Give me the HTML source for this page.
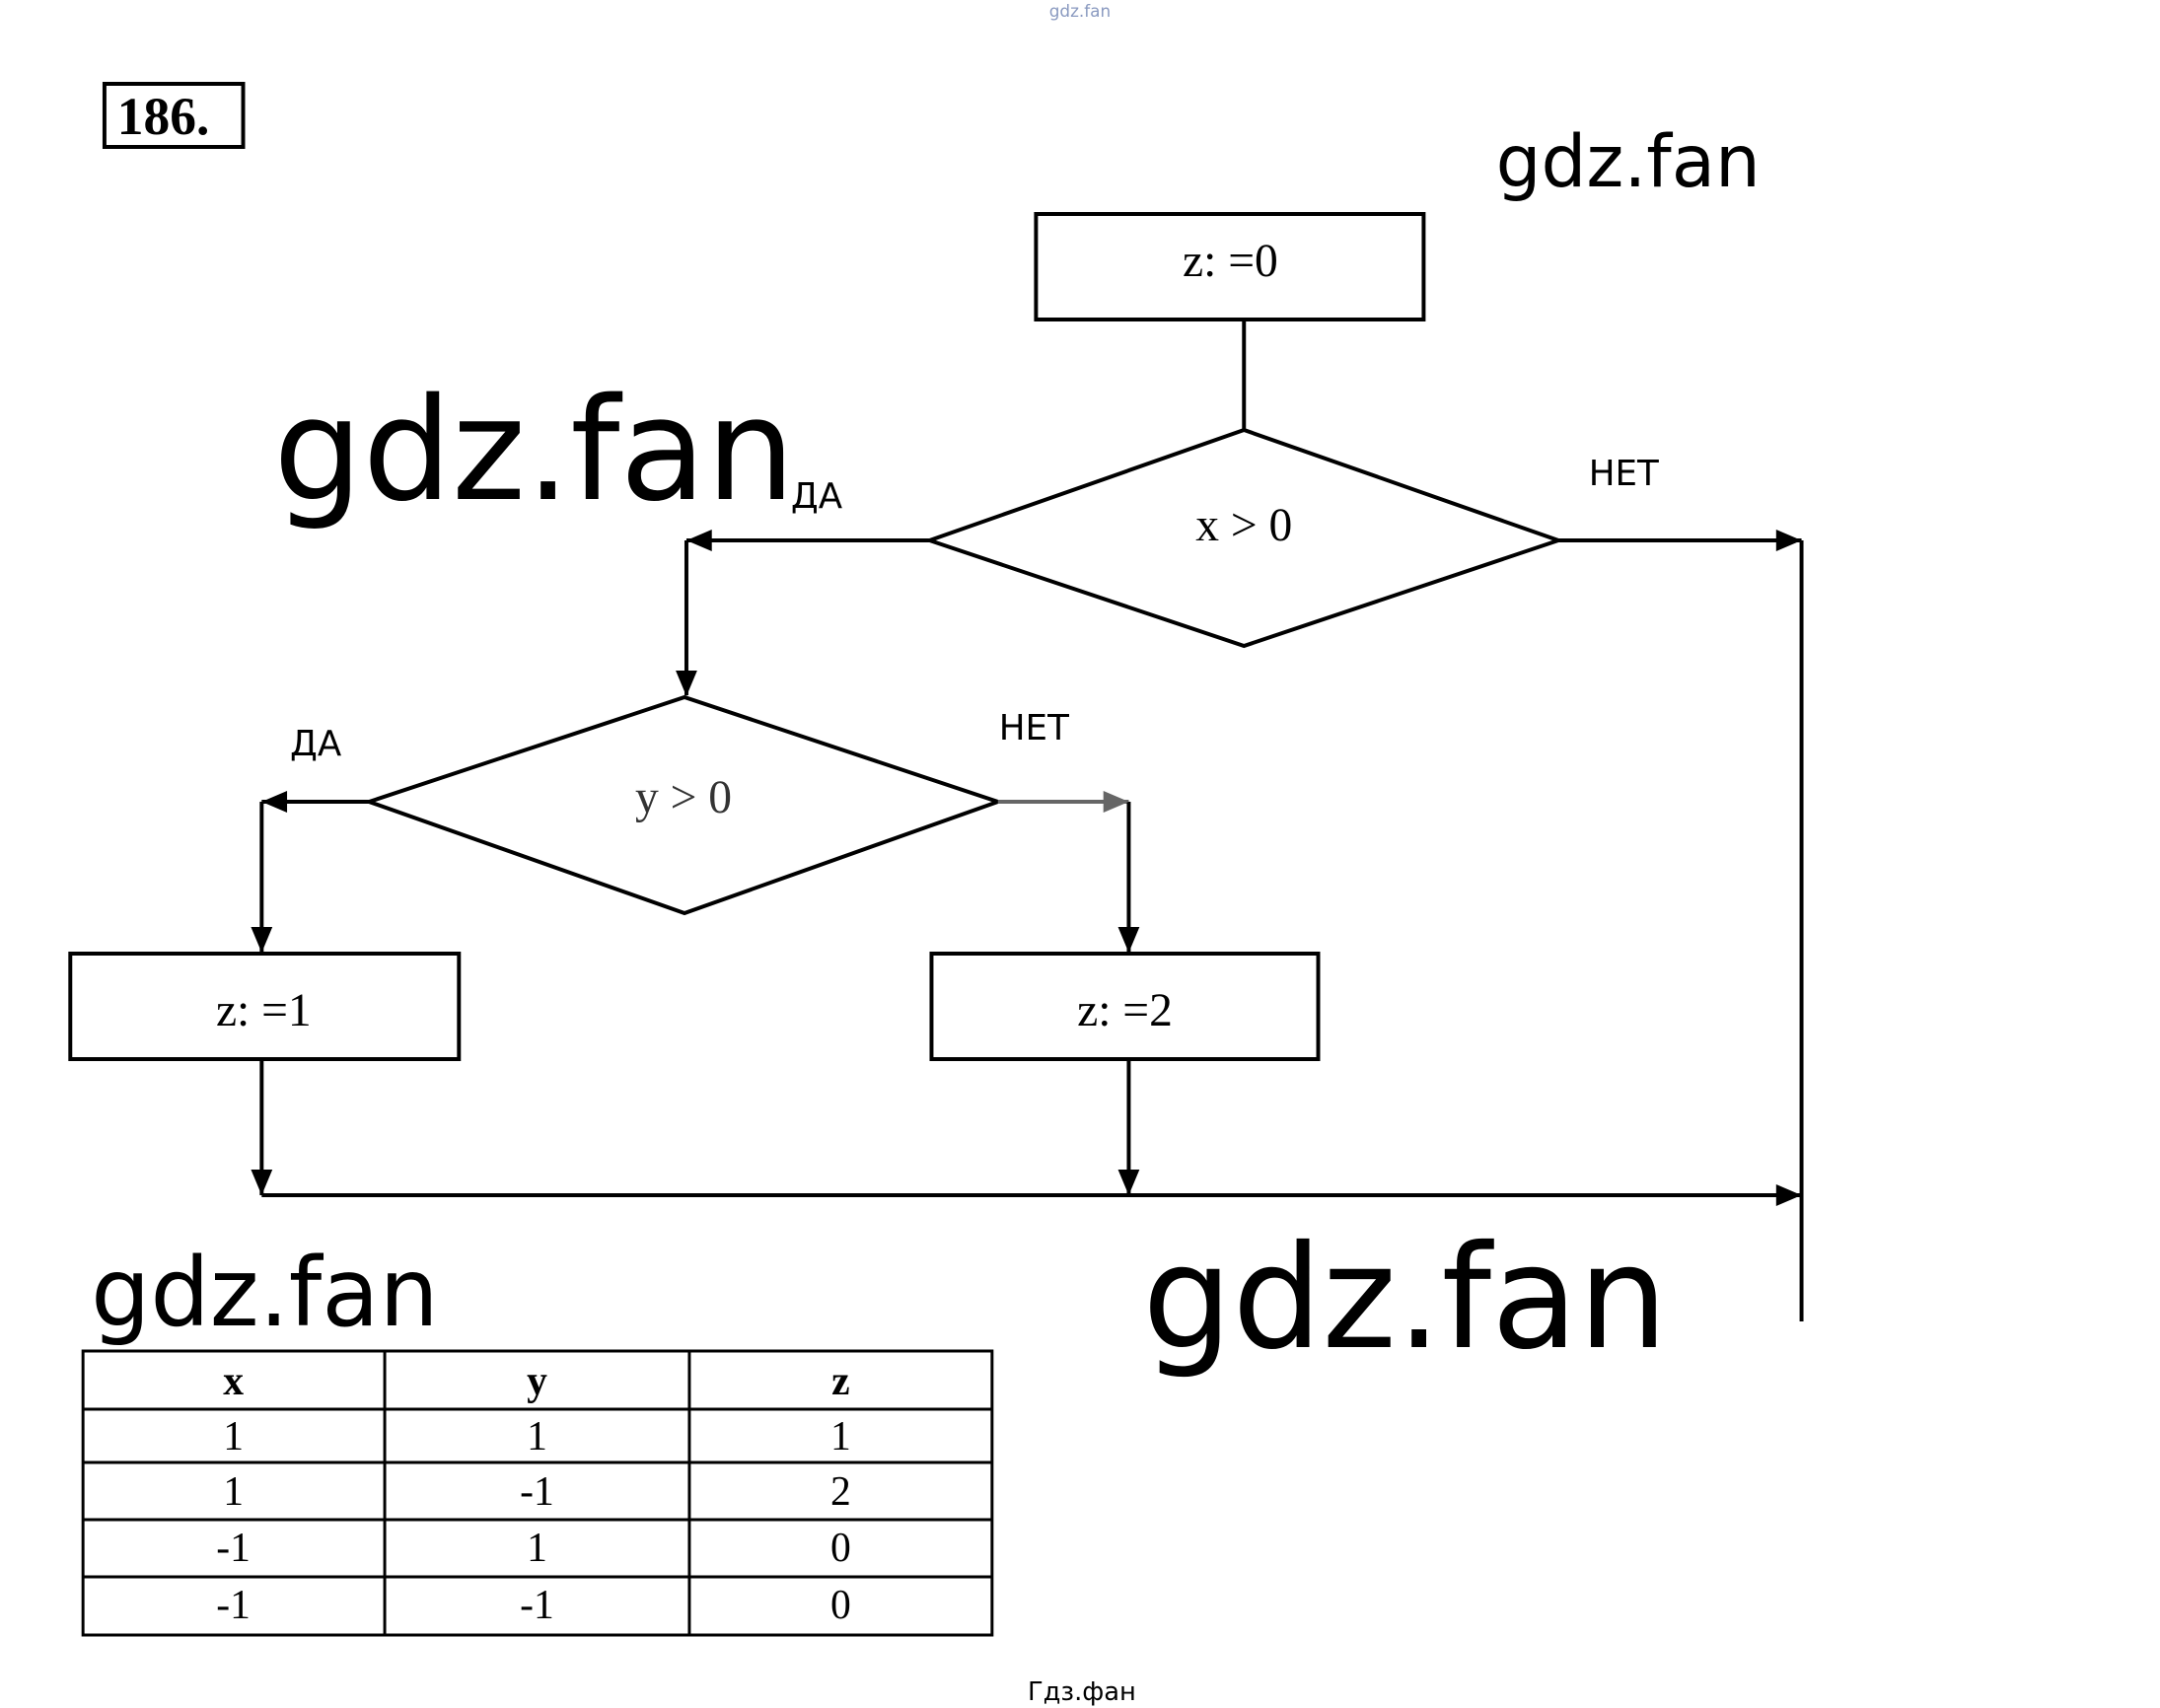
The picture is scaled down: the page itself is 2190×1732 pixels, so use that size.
<!DOCTYPE html>
<html><head><meta charset="utf-8"><style>
html,body{margin:0;padding:0;background:#fff;}
svg{display:block;}
</style></head><body>
<svg width="2190" height="1732" viewBox="0 0 2190 1732" xmlns="http://www.w3.org/2000/svg">
<rect x="0" y="0" width="2190" height="1732" fill="#fff"/>
<g transform="scale(0.99,1)">
<text x="1106" y="17" font-family="DejaVu Sans, sans-serif" font-size="17" fill="#8a9ac0" text-anchor="middle">gdz.fan</text>
<rect x="107" y="85" width="142" height="64" fill="none" stroke="#000" stroke-width="4"/>
<text x="120" y="136" font-family="Liberation Serif, serif" font-weight="bold" font-size="54">186.</text>

<g fill="none" stroke="#000" stroke-width="4">
<rect x="1061" y="217" width="397" height="107"/>
<line x1="1274" y1="324" x2="1274" y2="436"/>
<polygon points="952,548 1274,436 1596,548 1274,655"/>
<line x1="952" y1="548" x2="703" y2="548"/>
<line x1="703" y1="548" x2="703" y2="705"/>
<line x1="1596" y1="548" x2="1845" y2="548"/>
<line x1="1845" y1="548" x2="1845" y2="1340"/>
<polygon points="378,813 701,707 1022,813 701,926"/>
<line x1="378" y1="813" x2="268" y2="813"/>
<line x1="268" y1="813" x2="268" y2="965"/>
<line x1="1022" y1="813" x2="1156" y2="813" stroke="#666"/>
<line x1="1156" y1="813" x2="1156" y2="965"/>
<rect x="72" y="967" width="398" height="107"/>
<rect x="954" y="967" width="396" height="107"/>
<line x1="268" y1="1074" x2="268" y2="1212"/>
<line x1="1156" y1="1074" x2="1156" y2="1212"/>
<line x1="268" y1="1212" x2="1845" y2="1212"/>
</g>
<g fill="#000">
<path d="M703,548 l26,-11 l0,22 z"/>
<path d="M703,706 l-11,-26 l22,0 z"/>
<path d="M1845,548 l-26,-11 l0,22 z"/>
<path d="M268,813 l26,-11 l0,22 z"/>
<path d="M1156,813 l-26,-11 l0,22 z" fill="#666"/>
<path d="M268,966 l-11,-26 l22,0 z"/>
<path d="M1156,966 l-11,-26 l22,0 z"/>
<path d="M268,1212 l-11,-26 l22,0 z"/>
<path d="M1156,1212 l-11,-26 l22,0 z"/>
<path d="M1845,1212 l-26,-11 l0,22 z"/>
</g>

<g font-family="Liberation Serif, serif" font-size="48" text-anchor="middle">
<text x="1260" y="280">z: =0</text>
<text x="1274" y="548">x &gt; 0</text>
<text x="700" y="824" fill="#333">y &gt; 0</text>
<text x="270" y="1040">z: =1</text>
<text x="1152" y="1040">z: =2</text>
</g>
<g font-family="DejaVu Sans, sans-serif" font-size="36">
<text x="810" y="515">ДА</text>
<text x="1627" y="492">НЕТ</text>
<text x="297" y="766">ДА</text>
<text x="1023" y="750">НЕТ</text>
</g>
<g font-family="DejaVu Sans, sans-serif" fill="#000">
<text x="1532" y="189" font-size="73">gdz.fan</text>
<text x="280" y="506" font-size="144">gdz.fan</text>
<text x="93" y="1344" font-size="96">gdz.fan</text>
<text x="1170" y="1366" font-size="145">gdz.fan</text>
<text x="1108" y="1724" font-size="26" text-anchor="middle">Гдз.фан</text>
</g>

<g fill="none" stroke="#000" stroke-width="3">
<rect x="85" y="1370" width="931" height="288"/>
<line x1="85" y1="1429" x2="1016" y2="1429"/>
<line x1="85" y1="1483" x2="1016" y2="1483"/>
<line x1="85" y1="1541" x2="1016" y2="1541"/>
<line x1="85" y1="1599" x2="1016" y2="1599"/>
<line x1="394" y1="1370" x2="394" y2="1658"/>
<line x1="706" y1="1370" x2="706" y2="1658"/>
</g>
<g font-family="Liberation Serif, serif" font-size="42" text-anchor="middle">
<text x="239" y="1414" font-weight="bold">x</text>
<text x="550" y="1414" font-weight="bold">y</text>
<text x="861" y="1414" font-weight="bold">z</text>
<text x="239" y="1470">1</text><text x="550" y="1470">1</text><text x="861" y="1470">1</text>
<text x="239" y="1526">1</text><text x="550" y="1526">-1</text><text x="861" y="1526">2</text>
<text x="239" y="1583">-1</text><text x="550" y="1583">1</text><text x="861" y="1583">0</text>
<text x="239" y="1641">-1</text><text x="550" y="1641">-1</text><text x="861" y="1641">0</text>
</g>
</g>
</svg>
</body></html>
